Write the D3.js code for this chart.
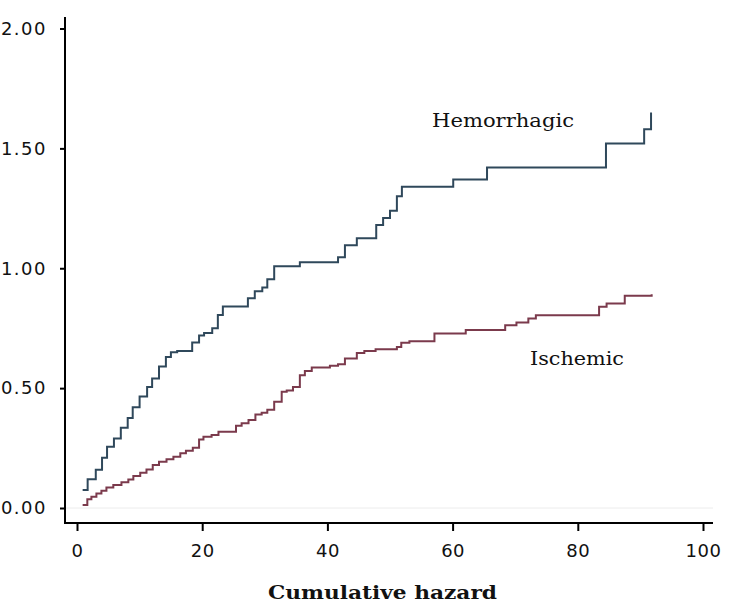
<!DOCTYPE html>
<html>
<head>
<meta charset="utf-8">
<script src="https://cdn.jsdelivr.net/npm/d3@7"></script>
<style>
  html, body { margin: 0; padding: 0; background: #fff; }
  svg { display: block; }
</style>
</head>
<body>
<svg id="chart" width="735" height="602"></svg>
<script>
// ---- data ----
const hemTimes = [0.9, 1.7, 3.0, 4.0, 4.8, 5.9, 7.0, 8.1, 8.9, 10.0, 11.2, 12.0, 13.1, 14.2, 15.0, 16.0, 18.4, 19.5, 20.3, 21.6, 22.5, 23.3, 27.3, 28.4, 29.6, 30.4, 31.5, 35.6, 41.7, 42.8, 44.7, 47.8, 48.9, 50.0, 51.1, 51.9, 60.1, 65.5, 84.5, 90.6, 91.7];
const hemValues = [0.075, 0.12, 0.16, 0.21, 0.255, 0.29, 0.335, 0.375, 0.42, 0.465, 0.505, 0.54, 0.59, 0.63, 0.65, 0.655, 0.69, 0.72, 0.73, 0.75, 0.805, 0.84, 0.875, 0.904, 0.92, 0.954, 1.008, 1.025, 1.046, 1.096, 1.125, 1.18, 1.21, 1.24, 1.30, 1.34, 1.37, 1.42, 1.52, 1.58, 1.65];

const ischTimes = [0.9, 1.65, 2.3, 3.1, 3.9, 4.7, 5.8, 7.1, 8.2, 9.0, 10.1, 11.1, 12.1, 13.1, 14.3, 15.4, 16.5, 17.4, 18.5, 19.5, 20.2, 21.5, 22.6, 25.4, 26.3, 27.4, 28.5, 29.5, 30.4, 31.5, 32.7, 33.5, 34.5, 35.6, 36.4, 37.5, 40.4, 41.7, 42.8, 44.7, 45.9, 47.7, 51.1, 51.8, 53.1, 57.1, 62.1, 68.4, 70.2, 72.1, 73.3, 83.4, 84.6, 87.5, 91.8];
const ischValues = [0.0125, 0.036, 0.047, 0.061, 0.072, 0.085, 0.096, 0.107, 0.119, 0.133, 0.147, 0.161, 0.179, 0.193, 0.203, 0.214, 0.228, 0.239, 0.251, 0.286, 0.297, 0.304, 0.318, 0.343, 0.353, 0.367, 0.39, 0.397, 0.41, 0.443, 0.485, 0.49, 0.505, 0.554, 0.571, 0.586, 0.593, 0.6, 0.624, 0.647, 0.655, 0.6625, 0.672, 0.689, 0.696, 0.728, 0.742, 0.7625, 0.774, 0.79, 0.804, 0.839, 0.853, 0.885, 0.892];

const xTicks = [0, 20, 40, 60, 80, 100];
const yTicks = [0, 0.5, 1.0, 1.5, 2.0];
const yTickLabels = ["0.00", "0.50", "1.00", "1.50", "2.00"];
const seriesNames = ["Hemorrhagic", "Ischemic"];
const xTitle = "Cumulative hazard";

// ---- layout ----
const svg = d3.select("#chart");
const x = d3.scaleLinear().domain([0, 100]).range([77, 703]);
const y = d3.scaleLinear().domain([0, 2]).range([508, 28.5]);
const axisLeftX = 65, axisBottomY = 523, axisTopY = 17, axisRightX = 713;

// faint zero gridline
svg.append("line")
  .attr("x1", axisLeftX).attr("x2", axisRightX)
  .attr("y1", y(0)).attr("y2", y(0))
  .attr("stroke", "#ececec").attr("stroke-width", 1);

// y axis
const yAxis = svg.append("g").attr("transform", `translate(${axisLeftX},0)`)
  .call(d3.axisLeft(y).tickValues(yTicks).tickSize(5).tickPadding(13)
    .tickFormat((d, i) => yTickLabels[i]));
yAxis.select(".domain").remove();
yAxis.selectAll(".tick line").attr("stroke", "#000").attr("stroke-width", 2);
yAxis.selectAll(".tick text")
  .attr("font-family", "DejaVu Sans, sans-serif").attr("font-size", 18)
  .attr("letter-spacing", 1.5).attr("fill", "#111");

// x axis
const xAxis = svg.append("g").attr("transform", `translate(0,${axisBottomY})`)
  .call(d3.axisBottom(x).tickValues(xTicks).tickSize(8).tickPadding(13));
xAxis.select(".domain").remove();
xAxis.selectAll(".tick line").attr("stroke", "#000").attr("stroke-width", 2);
xAxis.selectAll(".tick text")
  .attr("font-family", "DejaVu Sans, sans-serif").attr("font-size", 18)
  .attr("letter-spacing", 0.5).attr("fill", "#111");

// axis lines
svg.append("line").attr("x1", axisLeftX).attr("x2", axisLeftX)
  .attr("y1", axisTopY).attr("y2", axisBottomY + 1)
  .attr("stroke", "#000").attr("stroke-width", 2);
svg.append("line").attr("x1", axisLeftX - 1).attr("x2", axisRightX)
  .attr("y1", axisBottomY).attr("y2", axisBottomY)
  .attr("stroke", "#000").attr("stroke-width", 2);

// step lines
const line = d3.line().x(d => x(d[0])).y(d => y(d[1])).curve(d3.curveStepAfter);
const hem = hemTimes.map((t, i) => [t, hemValues[i]]);
const isch = ischTimes.map((t, i) => [t, ischValues[i]]);

svg.append("path").datum(isch).attr("d", line)
  .attr("fill", "none").attr("stroke", "#7b3a4c").attr("stroke-width", 2);
svg.append("path").datum(hem).attr("d", line)
  .attr("fill", "none").attr("stroke", "#2f485b").attr("stroke-width", 2);

// labels
svg.append("text").attr("x", 432).attr("y", 127)
  .attr("font-family", "DejaVu Serif, serif").attr("font-size", 19)
  .attr("textLength", 142).attr("lengthAdjust", "spacingAndGlyphs")
  .attr("fill", "#111").text(seriesNames[0]);
svg.append("text").attr("x", 530).attr("y", 365)
  .attr("font-family", "DejaVu Serif, serif").attr("font-size", 19)
  .attr("textLength", 94).attr("lengthAdjust", "spacingAndGlyphs")
  .attr("fill", "#111").text(seriesNames[1]);
svg.append("text").attr("x", 268).attr("y", 599)
  .attr("font-family", "DejaVu Serif, serif").attr("font-weight", "bold").attr("font-size", 19)
  .attr("textLength", 229).attr("lengthAdjust", "spacingAndGlyphs")
  .attr("fill", "#111").text(xTitle);
</script>
</body>
</html>
